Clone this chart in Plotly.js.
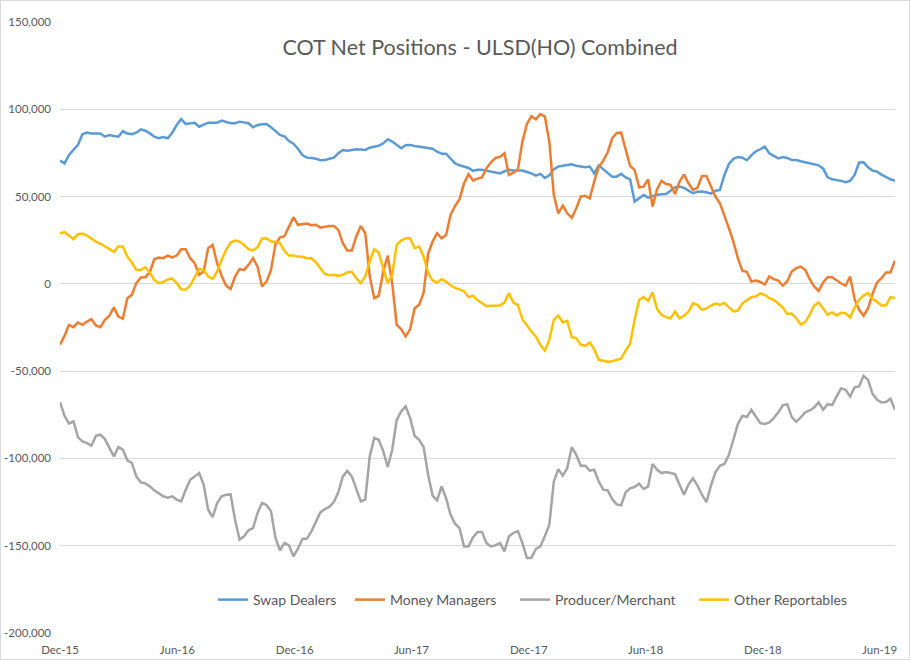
<!DOCTYPE html>
<html>
<head>
<meta charset="utf-8">
<script src="https://cdn.plot.ly/plotly-3.0.1.min.js"></script>
<style>
  html, body { margin: 0; padding: 0; background: #fff; }
  #wrap { position: relative; width: 910px; height: 660px; }
  #chart { width: 910px; height: 660px; }
  #border { position: absolute; left: 0; top: 0; width: 908px; height: 658px; border: 1px solid #D9D9D9; pointer-events: none; }
</style>
</head>
<body>
<div id="wrap"><div id="chart"></div><div id="border"></div></div>
<script>
// Weekly COT reports, first report Tuesday 2015-12-01
const startDate = "2015-12-01";
const weekCount = 187;

const seriesNames = ["Swap Dealers", "Money Managers", "Producer/Merchant", "Other Reportables"];
const seriesColors = ["#5B9BD5", "#ED7D31", "#A5A5A5", "#FFC000"];

const swapDealers = [
70600,69000,73800,77000,79600,85700,86700,86200,86000,86200,
84300,85300,84700,84300,87500,86100,85700,86600,88500,87700,
86200,84300,83400,84100,83400,86600,91000,94300,91600,92000,
92300,90000,91000,92300,92300,92300,93500,92900,92000,92000,
92900,92500,92000,89700,91000,91400,91600,89700,87500,85300,
84500,81800,80300,77400,73800,72300,72100,71700,70800,70900,
71700,72300,74800,76700,76300,76900,77100,76900,76700,78000,
78600,79200,80500,82800,81500,79400,77700,79400,79600,79000,
78600,78000,78000,77400,75700,74600,74600,71900,69000,67900,
67200,66400,64700,65300,65300,64700,64300,63700,63200,64500,
65300,64900,64700,64900,64100,63300,62000,63000,60700,62200,
65600,67200,67700,68100,68500,67700,67200,66800,67200,63300,
67900,65600,63300,61400,61400,63000,61000,59900,47100,49000,
50900,49400,50400,51100,51300,51500,53400,55300,55700,55000,
53400,51900,52700,52900,52500,51700,53400,53800,62400,68700,
71600,72700,72300,70800,73600,75900,77100,78600,74800,73300,
71900,72700,72100,70900,70900,70200,69600,68900,68700,67900,
66000,61000,59900,59500,59000,58200,59000,62400,69500,69600,
66800,64900,64300,62600,61000,59900,59100];

const moneyManagers = [
-34900,-29800,-23500,-24800,-22100,-23500,-21600,-20200,-23800,-24800,
-20600,-18300,-13500,-18700,-20000,-8200,-6300,400,3600,3800,
6500,14100,15100,14700,16200,15100,16200,19800,19800,14700,
11800,5200,7000,20400,22300,11800,4600,-1000,-2900,4200,
8400,8000,10900,14700,9900,-1500,1300,8000,22700,26700,
27300,32800,38200,33800,34000,34500,33600,33800,32200,32800,
33200,33200,30900,23300,19100,19100,27100,33200,29000,4200,
-8200,-6900,7100,16200,400,-23500,-25900,-30100,-25900,-13900,
-12000,-5000,17200,24200,29000,26100,28000,39500,44600,48500,
57600,62800,59200,60300,61000,66200,69600,72100,72700,74800,
62400,63700,65300,81500,91600,96000,94300,97300,95800,81500,
50900,40400,44800,40400,37800,43300,50000,50400,49000,58600,
66800,70600,75400,83400,86400,86600,76700,67500,65300,55300,
55700,59900,44300,54200,59000,57200,56700,51500,58600,62600,
57600,53800,55100,61800,61800,55700,50000,46200,39500,31900,
24200,14700,7400,6900,1300,1900,1100,-400,4200,2700,
1900,-1100,1500,7100,9000,9900,8000,2700,-1500,-4000,
800,3800,3800,1900,200,-1000,4200,-8800,-14900,-18300,
-13900,-5700,800,3200,6500,6500,13400];

const producerMerchant = [
-67700,-75600,-80100,-78800,-87800,-90200,-91200,-92700,-87000,-86400,
-88900,-94100,-98800,-93500,-95000,-101100,-102600,-110300,-113700,-114300,
-116000,-118300,-119800,-121700,-122500,-121700,-123600,-124600,-117900,-112200,
-110300,-108400,-115000,-129400,-133600,-125600,-121700,-120800,-120600,-135100,
-146500,-144600,-141200,-139900,-131300,-125500,-126700,-130300,-145600,-152600,
-148400,-149800,-156100,-151700,-146100,-145900,-141800,-136000,-130900,-129000,
-127800,-125000,-119400,-110300,-107200,-110300,-117000,-124600,-123600,-98800,
-88300,-89300,-95800,-104900,-95000,-77900,-73100,-70200,-76900,-87000,
-89300,-93500,-109300,-121300,-124000,-116000,-122700,-132200,-137400,-139900,
-150400,-150400,-145300,-142200,-142100,-148400,-150400,-149800,-148400,-153200,
-144600,-142700,-141600,-148400,-157000,-157000,-151900,-150400,-144600,-138000,
-113200,-106100,-109900,-105500,-93500,-97900,-104200,-104200,-107000,-106500,
-113200,-117900,-118300,-123300,-126300,-126900,-119400,-117100,-116400,-114500,
-117500,-116000,-103200,-106500,-108400,-107800,-108400,-109000,-115000,-120800,
-115000,-111400,-115600,-120800,-125000,-115600,-108000,-104200,-103200,-97900,
-89300,-80300,-75600,-76300,-72100,-76300,-79800,-80300,-79400,-76900,
-73600,-69600,-68900,-76300,-79000,-76500,-73600,-72500,-70800,-67900,
-72100,-68900,-69500,-64500,-59900,-60700,-64500,-59300,-58800,-52700,
-55000,-63000,-66400,-67900,-67700,-65800,-72100];

const otherReportables = [
29000,29600,27700,25600,28400,28800,27700,25900,24200,23100,
21600,19800,18300,21400,21400,15600,12200,8000,8000,9500,
6500,2300,400,1000,2500,3100,400,-3100,-3400,-1000,
4200,8600,8000,4200,2900,7100,13700,19500,23700,24800,
24200,22300,19800,19100,21000,26000,26100,24200,24000,23300,
18900,16200,16200,15600,15500,14700,14700,12400,9000,5700,
5000,5200,4600,5000,6700,6900,3200,400,4200,12800,
19800,17900,9000,400,5200,22300,24800,26100,26100,20400,
21400,15600,6500,1900,800,2700,1300,-800,-2300,-3100,
-4200,-7600,-6800,-9300,-11100,-12800,-12600,-12400,-12400,-10700,
-5300,-10700,-12200,-20200,-23800,-27300,-30100,-34900,-38200,-32100,
-20600,-18100,-22100,-21200,-30500,-31100,-34900,-35500,-33600,-37400,
-43500,-43900,-44600,-44300,-43500,-42700,-38200,-34300,-20600,-9200,
-7600,-9700,-4800,-14500,-17700,-19100,-19800,-15800,-19700,-18300,
-16000,-11100,-12000,-14900,-14100,-12400,-11300,-12000,-10900,-13200,
-15800,-15300,-11300,-9300,-7600,-7300,-5500,-6300,-8200,-9200,
-11100,-13400,-17200,-17000,-19700,-23300,-21900,-17700,-12400,-10700,
-14100,-17700,-16400,-18100,-16600,-16800,-19300,-13500,-9200,-6700,
-5300,-8600,-10300,-12400,-12400,-7600,-8200];

const xTickVals = ["2015-12-01","2016-06-01","2016-12-01","2017-06-01","2017-12-01","2018-06-01","2018-12-01","2019-06-01"];
const xTickText = ["Dec-15","Jun-16","Dec-16","Jun-17","Dec-17","Jun-18","Dec-18","Jun-19"];
const yTickVals = [-200000,-150000,-100000,-50000,0,50000,100000,150000];
const yTickText = ["-200,000","-150,000","-100,000","-50,000","0","50,000","100,000","150,000"];

// build weekly dates
const dates = [];
const d0 = new Date(startDate + "T00:00:00Z");
for (let i = 0; i < weekCount; i++) {
  const d = new Date(d0.getTime() + i * 7 * 86400000);
  dates.push(d.toISOString().slice(0, 10));
}

const legendIds = ["legend", "legend2", "legend3", "legend4"];
const allSeries = [swapDealers, moneyManagers, producerMerchant, otherReportables];
const traces = allSeries.map((vals, k) => ({
  type: "scatter",
  mode: "lines",
  name: seriesNames[k],
  legend: legendIds[k],
  x: dates,
  y: vals,
  line: { color: seriesColors[k], width: 2.5 },
  hoverinfo: "x+y+name"
}));

const fontFam = "Lato, 'Open Sans', sans-serif";
const plotL = 60, plotW = 835, plotB = 633, plotH = 611;
// left pixel of each legend's line symbol (layout positions)
const legendLeftPx = [213, 350, 515, 694];
function legendCfg(px) {
  return {
    orientation: "h",
    x: (px - plotL) / plotW, xanchor: "left",
    y: (plotB - 600) / plotH, yanchor: "middle",
    bgcolor: "rgba(0,0,0,0)",
    font: { size: 14, color: "#595959", family: fontFam },
    itemwidth: 30
  };
}

const layout = {
  width: 910,
  height: 660,
  margin: { l: 60, r: 15, t: 22, b: 27 },
  paper_bgcolor: "#ffffff",
  plot_bgcolor: "#ffffff",
  font: { family: fontFam, color: "#595959", size: 12 },
  title: {
    text: "COT Net Positions - ULSD(HO) Combined",
    font: { family: fontFam, size: 21.5, color: "#595959" },
    xref: "container", yref: "container",
    x: 480 / 910, xanchor: "center",
    y: 1 - 47 / 660, yanchor: "middle"
  },
  xaxis: {
    type: "date",
    range: [dates[0], dates[dates.length - 1]],
    tickvals: xTickVals,
    ticktext: xTickText,
    showgrid: false,
    zeroline: false,
    showline: false,
    ticks: "",
    ticklabelstandoff: 8,
    tickfont: { size: 11.5, color: "#595959", family: fontFam },
    fixedrange: true
  },
  yaxis: {
    range: [-200000, 150000],
    tickvals: yTickVals,
    ticktext: yTickText,
    showgrid: true,
    gridcolor: "#D9D9D9",
    gridwidth: 1,
    zeroline: true,
    zerolinecolor: "#D9D9D9",
    zerolinewidth: 1,
    showline: false,
    ticks: "",
    ticklabelstandoff: 8,
    tickfont: { size: 11.5, color: "#595959", family: fontFam },
    fixedrange: true
  },
  legend: legendCfg(legendLeftPx[0]),
  legend2: legendCfg(legendLeftPx[1]),
  legend3: legendCfg(legendLeftPx[2]),
  legend4: legendCfg(legendLeftPx[3]),
  showlegend: true
};

Plotly.newPlot("chart", traces, layout, { displayModeBar: false, staticPlot: true });
</script>
</body>
</html>
